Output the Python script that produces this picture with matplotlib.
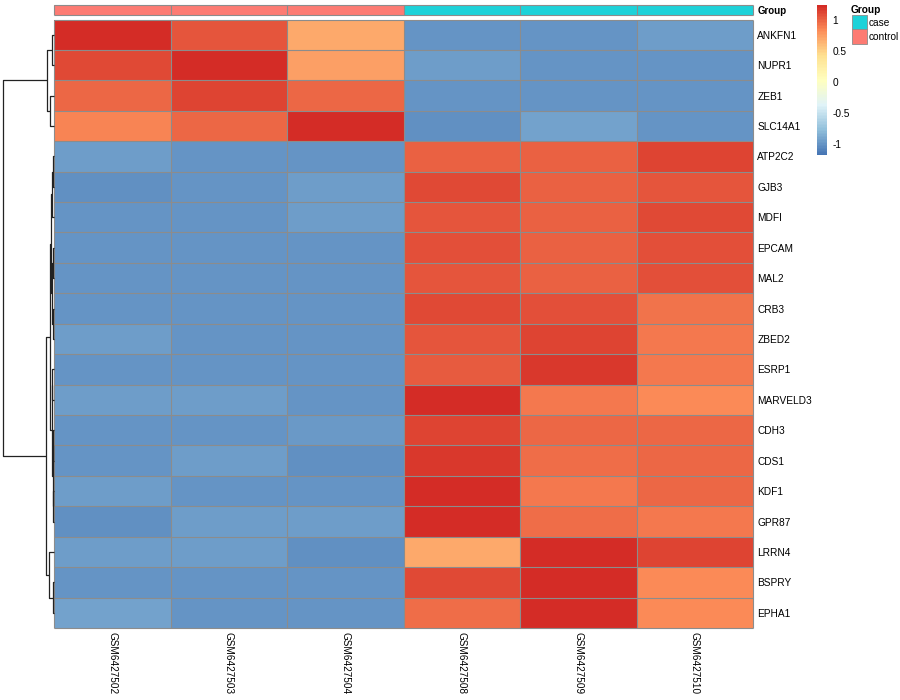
import numpy as np
import matplotlib
matplotlib.use("Agg")
from matplotlib import pyplot as plt
from matplotlib.colors import LinearSegmentedColormap, ListedColormap, Normalize
from matplotlib.cm import ScalarMappable
from matplotlib.patches import Rectangle

plt.rcParams['font.family'] = ['Liberation Sans', 'DejaVu Sans']

samples = ["GSM6427502", "GSM6427503", "GSM6427504",
           "GSM6427508", "GSM6427509", "GSM6427510"]
groups = ["control", "control", "control", "case", "case", "case"]
genes = ["ANKFN1", "NUPR1", "ZEB1", "SLC14A1", "ATP2C2", "GJB3", "MDFI",
         "EPCAM", "MAL2", "CRB3", "ZBED2", "ESRP1", "MARVELD3", "CDH3",
         "CDS1", "KDF1", "GPR87", "LRRN4", "BSPRY", "EPHA1"]

# row-scaled expression (z-score)
values = [
    [1.24, 1.06, 0.70, -0.99, -0.99, -0.96],
    [1.11, 1.22, 0.75, -0.96, -0.99, -0.99],
    [0.99, 1.13, 0.98, -0.99, -0.99, -0.99],
    [0.87, 0.99, 1.23, -1.03, -0.92, -0.99],
    [-0.96, -0.99, -0.99, 1.00, 1.00, 1.13],
    [-1.02, -0.99, -0.96, 1.10, 1.00, 1.06],
    [-0.99, -0.99, -0.96, 1.06, 1.00, 1.11],
    [-0.99, -0.99, -0.99, 1.08, 1.00, 1.08],
    [-0.99, -0.99, -0.99, 1.06, 1.00, 1.09],
    [-0.99, -0.99, -0.99, 1.10, 1.08, 0.94],
    [-0.96, -0.99, -0.99, 1.06, 1.14, 0.91],
    [-0.99, -0.99, -0.99, 1.04, 1.17, 0.91],
    [-0.96, -0.96, -0.99, 1.26, 0.91, 0.84],
    [-0.99, -0.99, -0.98, 1.14, 0.99, 0.99],
    [-0.99, -0.94, -1.02, 1.17, 0.97, 0.98],
    [-0.96, -0.99, -0.99, 1.23, 0.91, 0.98],
    [-1.02, -0.96, -0.96, 1.23, 0.96, 0.91],
    [-0.96, -0.96, -1.02, 0.70, 1.22, 1.14],
    [-0.99, -0.99, -0.99, 1.10, 1.22, 0.84],
    [-0.93, -0.99, -0.99, 0.96, 1.26, 0.84],
]

# row dendrogram: (left, right, height); leaves 0..19, new nodes from 20
linkage = [
    (0, 1, 1.8),     # 20
    (2, 3, 3.5),     # 21
    (20, 21, 6.7),   # 22
    (4, 5, 0.3),     # 23
    (23, 6, 1.5),    # 24
    (7, 8, 0.2),     # 25
    (9, 10, 0.5),    # 26
    (25, 26, 1.7),   # 27
    (24, 27, 2.8),   # 28
    (11, 12, 1.1),   # 29
    (13, 14, 0.3),   # 30
    (15, 16, 0.15),  # 31
    (30, 31, 0.7),   # 32
    (29, 32, 2.0),   # 33
    (28, 33, 3.8),   # 34
    (18, 19, 0.8),   # 35
    (17, 35, 4.5),   # 36
    (34, 36, 7.8),   # 37
    (22, 37, 50.5),  # 38
]

legend_range = (-1.18, 1.24)
legend_ticks = [-1, -0.5, 0, 0.5, 1]
group_colors = {"case": "#1DD2D9", "control": "#FD7B73"}
palette = ["#4575B4", "#91BFDB", "#E0F3F8", "#FFFFBF", "#FEE090", "#FC8D59", "#D42C26"]

W, H = 900, 700
BORDER = "#8c8c8c"


def box(x0, y0, x1, y1):
    return [x0 / W, 1 - y1 / H, (x1 - x0) / W, (y1 - y0) / H]


def cell_borders(ax, nrow, ncol):
    h = ax.hlines(np.arange(nrow + 1), 0, ncol, color=BORDER, lw=0.8, clip_on=False)
    v = ax.vlines(np.arange(ncol + 1), 0, nrow, color=BORDER, lw=0.8, clip_on=False)
    h.set_snap(True)
    v.set_snap(True)


def draw_dendrogram(ax, links, n):
    pos = {i: i + 0.5 for i in range(n)}
    hgt = {i: 0.0 for i in range(n)}
    for k, (a, b, h) in enumerate(links):
        node = n + k
        xs = [hgt[a], h, h, hgt[b]]
        ys = [pos[a], pos[a], pos[b], pos[b]]
        ax.plot(xs, ys, color="#222222", lw=0.9, clip_on=False,
                solid_capstyle="butt")
        pos[node] = (pos[a] + pos[b]) / 2
        hgt[node] = h
    ax.set_ylim(n, 0)
    ax.set_xlim(links[-1][2], 0)
    ax.axis("off")


def main():
    data = np.array(values)
    cmap = LinearSegmentedColormap.from_list("rdylbu", palette, N=100)
    norm = Normalize(*legend_range)
    nrow, ncol = data.shape

    fig = plt.figure(figsize=(9, 7), dpi=100)

    # heatmap
    ax = fig.add_axes(box(54, 19.5, 753, 628))
    ax.pcolormesh(data, cmap=cmap, norm=norm)
    cell_borders(ax, nrow, ncol)
    ax.set_xlim(0, ncol)
    ax.set_ylim(nrow, 0)
    ax.set_xticks(np.arange(ncol) + 0.5)
    ax.set_xticklabels(samples, rotation=-90, fontsize=7.2, va="top", ha="center")
    ax.yaxis.tick_right()
    ax.set_yticks(np.arange(nrow) + 0.5)
    ax.set_yticklabels(genes, fontsize=7.3)
    ax.tick_params(length=0, pad=3)
    for s in ax.spines.values():
        s.set_visible(False)

    # annotation bar
    levels = list(group_colors)
    ann = fig.add_axes(box(54, 5, 753, 15))
    codes = np.array([[levels.index(g) for g in groups]])
    ann.pcolormesh(codes, cmap=ListedColormap([group_colors[l] for l in levels]),
                   vmin=-0.5, vmax=len(levels) - 0.5)
    cell_borders(ann, 1, ncol)
    ann.set_xlim(0, ncol)
    ann.set_ylim(1, 0)
    ann.set_xticks([])
    ann.yaxis.tick_right()
    ann.set_yticks([0.5])
    ann.set_yticklabels(["Group"], fontsize=7, fontweight="bold")
    ann.tick_params(length=0, pad=3)
    for s in ann.spines.values():
        s.set_visible(False)

    # dendrogram
    dax = fig.add_axes(box(3, 19.5, 53.5, 628))
    draw_dendrogram(dax, linkage, nrow)

    # colour legend
    cax = fig.add_axes(box(817, 5, 827, 155))
    cb = fig.colorbar(ScalarMappable(norm=norm, cmap=cmap), cax=cax)
    cb.outline.set_visible(False)
    cb.set_ticks(legend_ticks)
    cb.set_ticklabels([f"{t:g}" for t in legend_ticks])
    cax.tick_params(length=0, labelsize=7.3, pad=4)

    # group legend
    lax = fig.add_axes(box(851, 0, 900, 60))
    lax.set_xlim(851, 900)
    lax.set_ylim(60, 0)
    lax.axis("off")
    lax.text(851, 10, "Group", fontsize=7.3, fontweight="bold", va="center", ha="left")
    for i, lev in enumerate(levels):
        y0 = 15 + 14.3 * i
        lax.add_patch(Rectangle((851.5, y0), 15, 14.3, facecolor=group_colors[lev],
                                edgecolor=BORDER, lw=0.6))
        lax.text(869, y0 + 7.5, lev, fontsize=7.3, va="center", ha="left")

    fig.savefig("out.png", dpi=100)


if __name__ == '__main__':
    main()
